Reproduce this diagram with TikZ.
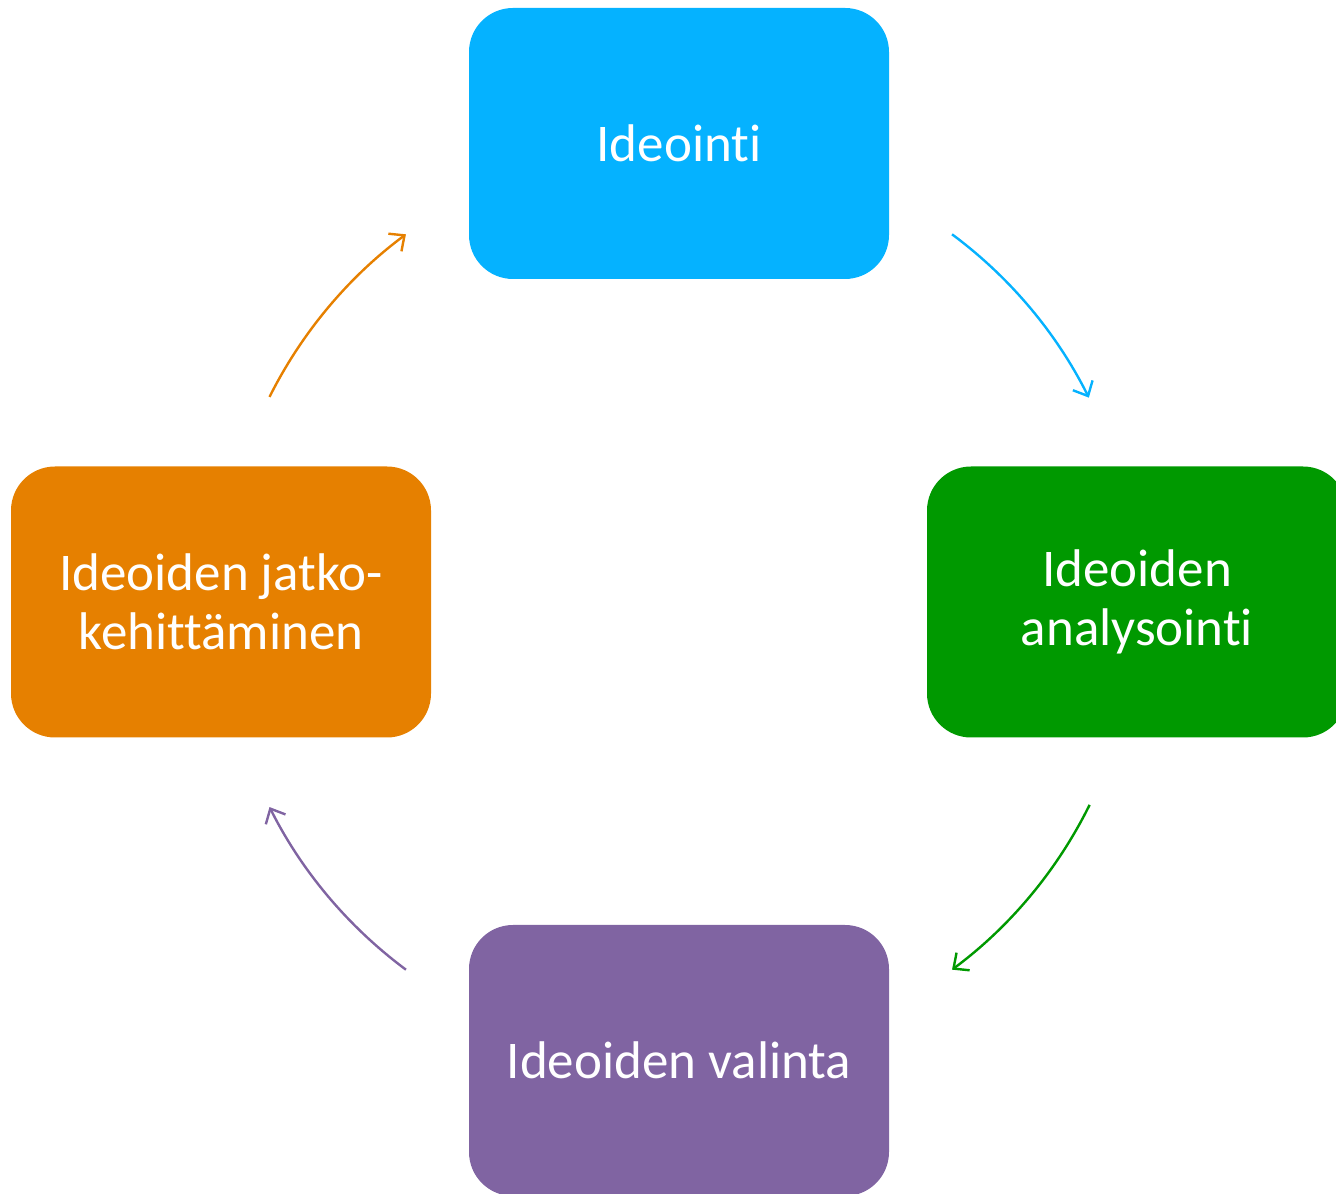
\documentclass[tikz,border=0pt]{standalone}
\usepackage{fontspec}
\setmainfont{Carlito}[Ligatures={NoCommon,NoContextual}]
\usetikzlibrary{calc,arrows.meta}
\definecolor{cblue}{RGB}{5,178,255}
\definecolor{cgreen}{RGB}{0,153,0}
\definecolor{cpurple}{RGB}{128,100,162}
\definecolor{corange}{RGB}{230,128,0}
\tikzset{
  box/.style={rounded corners=44pt, minimum width=420pt, minimum height=271pt, inner sep=0pt,
    text=white, align=center, font=\fontsize{53}{59}\selectfont},
  cyc/.style={line width=2.4pt, -{Straight Barb[length=12pt,width=22pt,line width=2.4pt]}}
}
\begin{document}
\begin{tikzpicture}[x=1pt,y=1pt]
\useasboundingbox (0,0) rectangle (1336,1194);
\coordinate (ctr) at (679,592);
\node[box, fill=cblue] (top) at (679,1050.5) {Ideointi};
\node[box, fill=cgreen] (right) at (1137,592) {Ideoiden\\analysointi};
\node[box, fill=cpurple] (bottom) at (679,133.5) {Ideoiden valinta};
\node[box, fill=corange] (left) at (221,592) {Ideoiden jatko-\\kehittäminen};
\coordinate (a1) at ($(ctr)+(53.4:458)$);
\coordinate (a2) at ($(ctr)+(-26.3:458)$);
\coordinate (a3) at ($(ctr)+(-126.6:458)$);
\coordinate (a4) at ($(ctr)+(153.4:458)$);
\draw[cyc, cblue] (a1) arc[start angle=53.4, end angle=26.5, radius=458];
\draw[cyc, cgreen] (a2) arc[start angle=-26.3, end angle=-53.4, radius=458];
\draw[cyc, cpurple] (a3) arc[start angle=-126.6, end angle=-153.4, radius=458];
\draw[cyc, corange] (a4) arc[start angle=153.4, end angle=126.6, radius=458];
\end{tikzpicture}
\end{document}
